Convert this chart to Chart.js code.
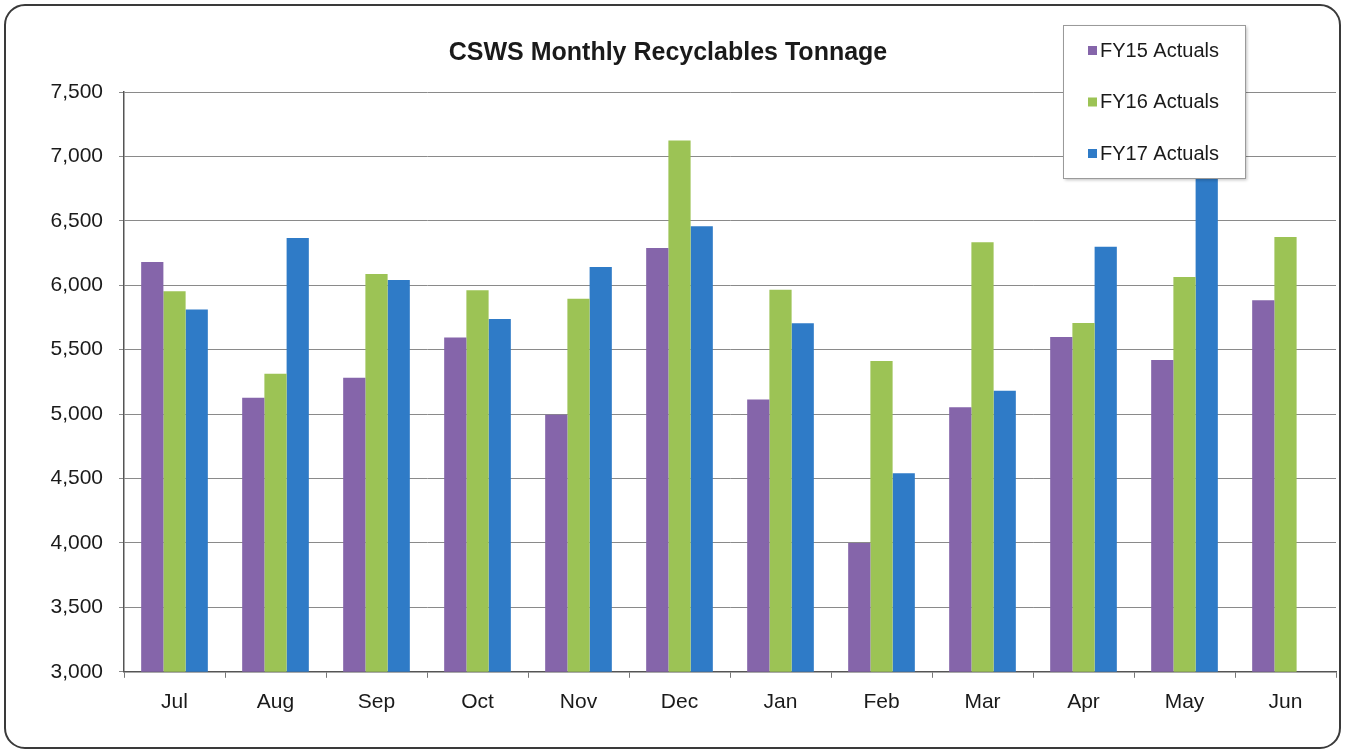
<!DOCTYPE html>
<html>
<head>
<meta charset="utf-8">
<title>CSWS Monthly Recyclables Tonnage</title>
<script src="https://cdn.jsdelivr.net/npm/chart.js@4/dist/chart.umd.min.js"></script>
<style>
    html, body { margin: 0; padding: 0; background: #fff; }
    #wrap { width: 1346px; height: 754px; }
</style>
</head>
<body>
<div id="wrap"><canvas id="recyclablesChart" width="1346" height="754"></canvas></div>
<script>
var months = ["Jul", "Aug", "Sep", "Oct", "Nov", "Dec", "Jan", "Feb", "Mar", "Apr", "May", "Jun"];
var fy15Actuals = [6180, 5127, 5282, 5595, 4995, 6289, 5114, 4000, 5054, 5599, 5420, 5884];
var fy16Actuals = [5953, 5313, 6088, 5961, 5896, 7124, 5966, 5412, 6334, 5707, 6065, 6375];
var fy17Actuals = [5811, 6367, 6041, 5738, 6142, 6459, 5705, 4541, 5181, 6298, 6980, null];
var yTicks = [3000, 3500, 4000, 4500, 5000, 5500, 6000, 6500, 7000, 7500];

var fontFamily = "'Liberation Sans', Arial, sans-serif";

// rounded frame around the whole chart
var framePlugin = {
    id: "frame",
    beforeDraw: function(chart) {
        var ctx = chart.ctx;
        ctx.save();
        ctx.fillStyle = "#fff";
        ctx.fillRect(0, 0, chart.width, chart.height);
        ctx.beginPath();
        ctx.roundRect(5, 5, chart.width - 11, chart.height - 11, 20);
        ctx.lineWidth = 2;
        ctx.strokeStyle = "#3a3a3a";
        ctx.stroke();
        ctx.restore();
    }
};

// boxed legend sitting over the top right of the plot
var boxLegendPlugin = {
    id: "boxLegend",
    afterDraw: function(chart) {
        var ctx = chart.ctx;
        var x = 1063, y = 25, w = 182, h = 153;
        ctx.save();
        ctx.shadowColor = "rgba(0,0,0,0.25)";
        ctx.shadowOffsetX = 2;
        ctx.shadowOffsetY = 2;
        ctx.shadowBlur = 3;
        ctx.fillStyle = "#fff";
        ctx.fillRect(x, y, w, h);
        ctx.shadowColor = "transparent";
        ctx.strokeStyle = "#9a9a9a";
        ctx.lineWidth = 1;
        ctx.strokeRect(x + 0.5, y + 0.5, w, h);
        ctx.font = "20px " + fontFamily;
        ctx.textBaseline = "middle";
        chart.data.datasets.forEach(function(ds, i) {
            var cy = y + 25 + i * 51.5;
            ctx.fillStyle = ds.backgroundColor;
            ctx.fillRect(x + 25, cy - 4, 9, 9);
            ctx.fillStyle = "#1a1a1a";
            ctx.fillText(ds.label, x + 37, cy + 1);
        });
        ctx.restore();
    }
};

var element = document.getElementById("recyclablesChart");
var chart = new Chart(element, {
    type: "bar",
    data: {
        labels: months,
        datasets: [{
            label: "FY15 Actuals",
            data: fy15Actuals,
            backgroundColor: "#8565aa"
        }, {
            label: "FY16 Actuals",
            data: fy16Actuals,
            backgroundColor: "#9cc355"
        }, {
            label: "FY17 Actuals",
            data: fy17Actuals,
            backgroundColor: "#2f7bc7"
        }]
    },
    options: {
        responsive: false,
        animation: false,
        layout: {
            padding: { top: 20, right: 10, bottom: 27, left: 0 }
        },
        datasets: {
            bar: {
                categoryPercentage: 0.66,
                barPercentage: 1.0
            }
        },
        plugins: {
            legend: { display: false },
            tooltip: { enabled: false },
            title: {
                display: true,
                text: "CSWS Monthly Recyclables Tonnage",
                color: "#1a1a1a",
                font: { family: fontFamily, size: 25, weight: "bold" },
                padding: { top: 18, bottom: 24 }
            }
        },
        scales: {
            x: {
                grid: {
                    offset: true,
                    drawOnChartArea: false,
                    tickLength: 6,
                    color: "#777"
                },
                border: { display: true, color: "#555", width: 1.5 },
                ticks: {
                    color: "#1a1a1a",
                    padding: 12,
                    font: { family: fontFamily, size: 21 }
                }
            },
            y: {
                min: 3000,
                max: 7500,
                afterBuildTicks: function(scale) {
                    scale.ticks = yTicks.map(function(v) { return { value: v }; });
                },
                afterFit: function(scale) {
                    scale.width = 124;
                },
                grid: {
                    color: "#8a8a8a",
                    lineWidth: 1,
                    tickLength: 5
                },
                border: { display: true, color: "#555", width: 1.5 },
                ticks: {
                    color: "#1a1a1a",
                    padding: 16,
                    font: { family: fontFamily, size: 21 },
                    callback: function(value) {
                        return value.toLocaleString("en-US");
                    }
                }
            }
        }
    },
    plugins: [framePlugin, boxLegendPlugin]
});
</script>
</body>
</html>
